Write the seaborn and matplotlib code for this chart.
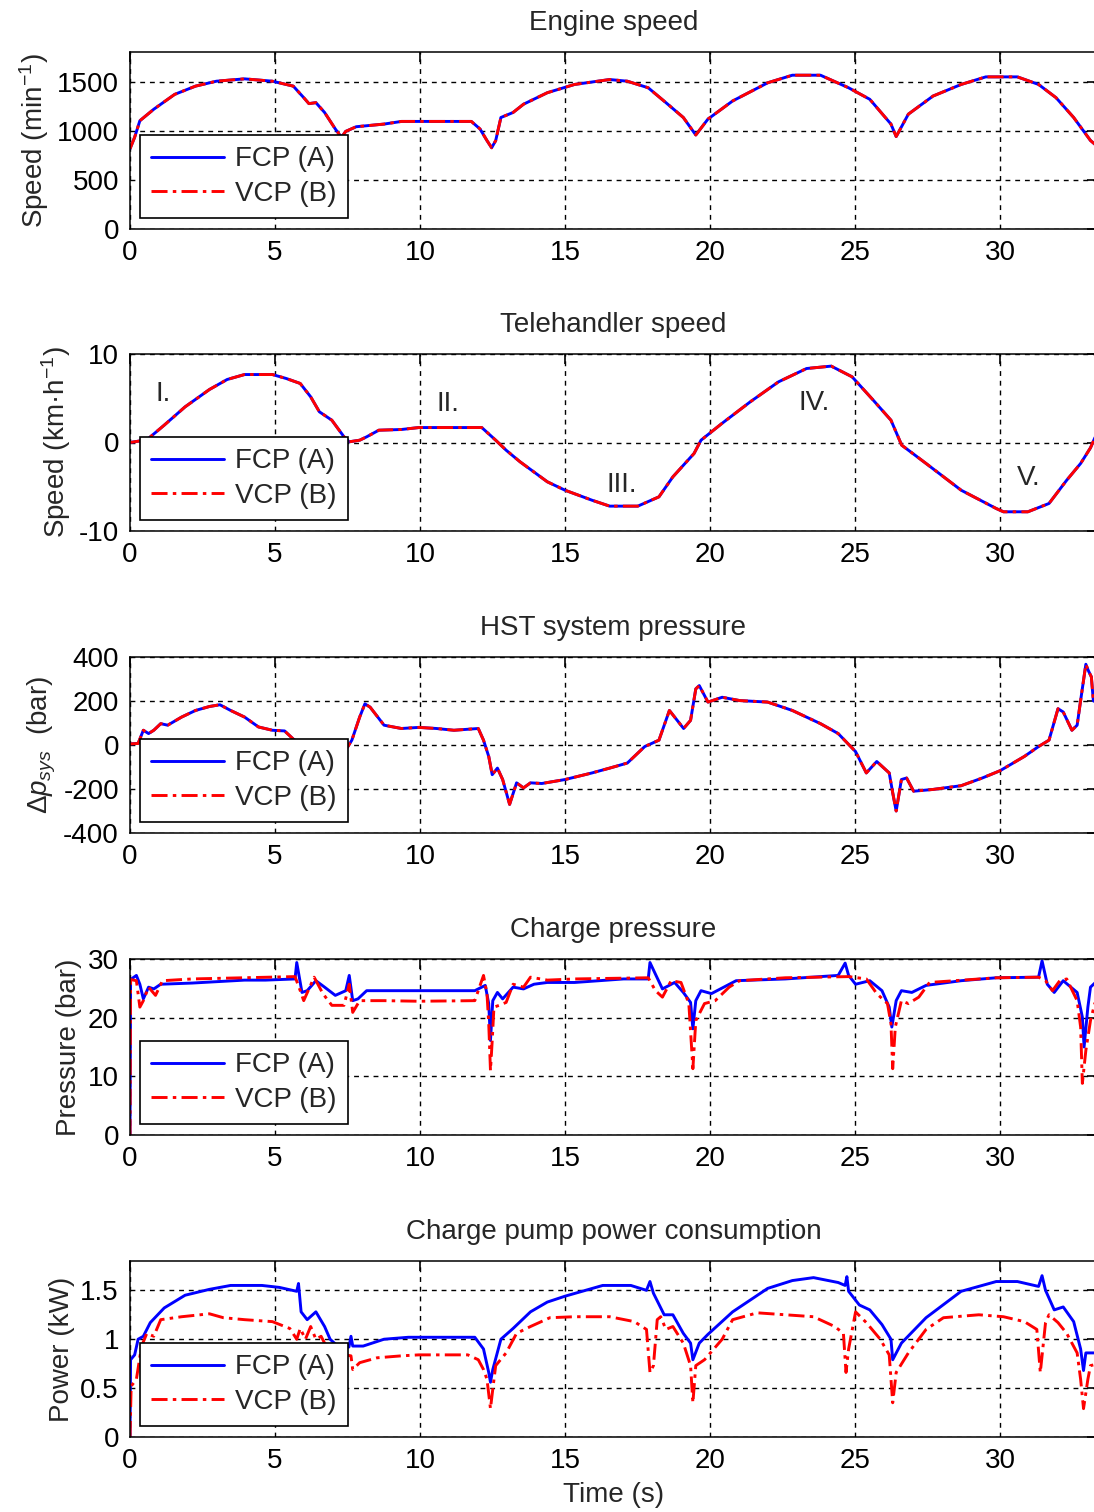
import numpy as np
import pandas as pd
import matplotlib
matplotlib.use('Agg')
import matplotlib.pyplot as plt
import seaborn as sns

# ---------------- data ----------------
t_eng = [0, 0.16, 0.34, 0.82, 1.54, 2.26, 2.98, 3.95, 4.91, 5.63,
         5.99, 6.17, 6.41, 6.71, 7.08, 7.29, 7.44, 7.80, 8.76, 9.36,
         11.77, 12.07, 12.31, 12.47, 12.61, 12.79, 13.21, 13.57, 14.39, 15.33,
         16.54, 17.15, 17.87, 18.48, 19.08, 19.51, 19.93, 20.78, 21.99, 22.84,
         23.81, 24.78, 25.51, 26.24, 26.42, 26.84, 27.69, 28.66, 29.51, 30.6,
         31.33, 31.93, 32.54, 33.12, 33.4]
eng = [815, 933, 1101, 1218, 1369, 1453, 1503, 1527, 1503, 1453,
       1336, 1275, 1285, 1185, 1017, 933, 993, 1040, 1067, 1094,
       1094, 1017, 899, 826, 899, 1134, 1185, 1269, 1386, 1470,
       1520, 1503, 1436, 1285, 1134, 956, 1118, 1302, 1487, 1564,
       1564, 1436, 1319, 1067, 940, 1168, 1352, 1470, 1547, 1547,
       1470, 1336, 1134, 900, 830]

t_tel = [0, 0.58, 1.18, 1.90, 2.74, 3.35, 3.95, 4.91, 5.39, 5.87,
         6.23, 6.53, 6.96, 7.38, 7.56, 7.92, 8.16, 8.58, 9.36, 9.96,
         12.13, 12.61, 12.97, 13.45, 14.39, 15.0, 15.93, 16.54, 17.51, 18.24,
         18.72, 19.45, 19.69, 20.41, 21.39, 22.36, 23.33, 24.18, 24.9, 25.63,
         26.24, 26.61, 27.45, 28.66, 29.87, 30.12, 30.96, 31.69, 32.30, 32.78,
         33.12, 33.4]
tel = [0.0, 0.3, 1.96, 4.03, 5.99, 7.12, 7.68, 7.68, 7.23, 6.67,
       5.16, 3.47, 2.52, 0.64, 0.08, 0.26, 0.64, 1.39, 1.47, 1.69,
       1.69, 0.26, -0.87, -2.18, -4.44, -5.39, -6.52, -7.19, -7.19, -6.14,
       -3.88, -1.24, 0.26, 2.15, 4.6, 6.85, 8.36, 8.63, 7.42, 4.78,
       2.52, -0.30, -2.37, -5.39, -7.46, -7.83, -7.83, -6.89, -4.26, -2.37,
       -0.6, 1.5]

t_hst = [0, 0.28, 0.46, 0.64, 0.82, 1.06, 1.3, 1.78, 2.26, 2.74,
         3.10, 3.47, 3.95, 4.43, 4.91, 5.33, 5.63, 6.2, 7.0, 7.5,
         7.65, 7.92, 8.10, 8.28, 8.76, 9.36, 9.96, 10.57, 11.17, 12.01,
         12.19, 12.37, 12.49, 12.67, 12.85, 13.09, 13.33, 13.57, 13.81, 14.2,
         15.0, 15.93, 16.54, 17.15, 17.75, 18.24, 18.6, 19.09, 19.33, 19.51,
         19.63, 19.93, 20.42, 21.02, 21.99, 22.84, 23.81, 24.42, 25.02, 25.39,
         25.75, 26.18, 26.3, 26.42, 26.6, 26.78, 27.02, 27.69, 28.66, 29.39,
         30.0, 30.84, 31.33, 31.69, 32.0, 32.18, 32.48, 32.66, 32.78, 32.96,
         33.05, 33.15, 33.22, 33.4]
hst = [5, 7, 67, 52, 67, 97, 90, 127, 157, 175,
       183, 157, 127, 82, 67, 64, 27, -30, -40, -10,
       22, 127, 187, 172, 90, 75, 80, 75, 67, 75,
       22, -52, -135, -105, -157, -270, -172, -195, -172, -175,
       -157, -127, -105, -82, -7, 22, 157, 75, 112, 255,
       270, 195, 217, 202, 195, 157, 97, 52, -30, -127,
       -75, -127, -217, -300, -157, -150, -210, -202, -185, -150,
       -117, -52, -7, 22, 165, 150, 67, 90, 202, 367,
       337, 310, 200, 200]

t_cp_a = [0, 0.02, 0.22, 0.34, 0.46, 0.64, 0.82, 1.06, 2.14, 3.95,
          4.67, 5.69, 5.75, 5.93, 6.11, 6.41, 6.71, 7.08, 7.44, 7.56,
          7.68, 7.86, 8.16, 11.89, 12.25, 12.37, 12.43, 12.51, 12.67, 12.85,
          13.21, 13.57, 13.93, 14.39, 15.33, 17.02, 17.87, 17.93, 18.12, 18.36,
          18.78, 19.08, 19.33, 19.41, 19.51, 19.69, 20.05, 20.9, 22.6, 24.42,
          24.66, 24.78, 25.02, 25.51, 25.93, 26.18, 26.27, 26.42, 26.6, 26.96,
          27.45, 28.66, 29.87, 31.33, 31.45, 31.63, 31.87, 32.18, 32.66, 32.84,
          32.90, 33.03, 33.12, 33.4]
cp_a = [0, 26.5, 27.2, 25.7, 23.2, 25.2, 24.9, 25.7, 25.9, 26.4,
        26.4, 26.6, 29.4, 24.3, 24.6, 26.3, 25.2, 23.8, 24.6, 27.2,
        22.9, 23.2, 24.6, 24.6, 25.5, 22.4, 16.1, 22.9, 24.3, 23.2,
        25.2, 24.9, 25.7, 26.0, 26.0, 26.6, 26.6, 29.4, 27.4, 24.9,
        26.0, 24.3, 22.6, 18.1, 22.9, 24.6, 24.1, 26.3, 26.6, 27.2,
        29.3, 27.2, 25.7, 26.3, 24.6, 21.8, 18.4, 22.9, 24.6, 24.3,
        25.5, 26.3, 26.8, 26.9, 29.7, 25.7, 24.3, 26.3, 24.3, 20.1,
        15.0, 21.8, 25.2, 26.5]

t_cp_b = [0, 0.02, 0.22, 0.34, 0.46, 0.64, 0.88, 1.12, 2.14, 5.69,
          5.87, 5.99, 6.35, 6.65, 6.96, 7.38, 7.56, 7.68, 7.92, 8.76,
          9.96, 11.89, 12.19, 12.31, 12.37, 12.43, 12.49, 12.55, 12.73, 12.97,
          13.21, 13.57, 13.81, 14.39, 15.33, 17.87, 18.12, 18.36, 18.66, 19.0,
          19.27, 19.35, 19.41, 19.51, 19.81, 20.18, 20.66, 21.02, 22.6, 24.78,
          25.39, 25.75, 26.12, 26.24, 26.3, 26.39, 26.6, 26.84, 27.2, 27.57,
          29.87, 31.33, 31.57, 31.81, 32.06, 32.30, 32.66, 32.78, 32.84, 32.96,
          33.12, 33.4]
cp_b = [0, 26.5, 26.3, 21.8, 22.9, 25.2, 23.8, 26.3, 26.6, 27.0,
        24.6, 22.9, 26.9, 24.1, 22.1, 22.1, 25.7, 20.9, 22.9, 22.9,
        22.8, 22.9, 27.2, 24.1, 19.0, 11.0, 16.1, 21.8, 22.1, 22.6,
        25.7, 25.2, 26.9, 26.4, 26.6, 26.8, 24.6, 23.5, 26.3, 26.0,
        22.4, 16.1, 11.3, 19.5, 22.4, 22.9, 25.2, 26.3, 26.8, 27.0,
        26.6, 24.1, 22.4, 19.0, 11.3, 18.4, 22.9, 22.4, 23.5, 26.0,
        26.8, 26.9, 26.3, 24.6, 26.3, 26.6, 22.9, 18.4, 8.8, 14.4,
        19.5, 25.0]

t_pw_a = [0, 0.02, 0.16, 0.28, 0.46, 0.70, 1.18, 1.90, 2.74, 3.47,
          4.55, 5.15, 5.75, 5.81, 5.90, 6.11, 6.41, 6.71, 6.90, 7.2,
          7.55, 7.62, 7.68, 8.04, 8.76, 9.60, 11.89, 12.19, 12.37, 12.43,
          12.51, 12.79, 13.21, 13.81, 14.39, 15.0, 16.3, 17.27, 17.81, 17.93,
          18.05, 18.42, 18.72, 19.08, 19.33, 19.41, 19.63, 19.93, 20.78, 21.99,
          22.84, 23.57, 24.42, 24.66, 24.72, 24.78, 25.15, 25.51, 25.93, 26.24,
          26.3, 26.6, 27.45, 28.66, 29.87, 30.6, 31.33, 31.45, 31.57, 31.87,
          32.18, 32.54, 32.78, 32.88, 32.96, 33.12, 33.4]
pw_a = [0, 0.79, 0.84, 1.0, 1.03, 1.17, 1.32, 1.45, 1.51, 1.55,
        1.55, 1.53, 1.49, 1.57, 1.28, 1.20, 1.28, 1.13, 1.0, 0.92,
        0.92, 1.03, 0.93, 0.93, 1.0, 1.02, 1.02, 0.90, 0.66, 0.56,
        0.69, 1.0, 1.11, 1.28, 1.38, 1.44, 1.55, 1.55, 1.50, 1.59,
        1.47, 1.25, 1.25, 1.06, 0.96, 0.79, 0.96, 1.05, 1.28, 1.52,
        1.60, 1.63, 1.58, 1.55, 1.64, 1.49, 1.35, 1.30, 1.15, 1.0,
        0.79, 0.96, 1.22, 1.49, 1.59, 1.59, 1.54, 1.65, 1.50, 1.30,
        1.33, 1.18, 0.90, 0.68, 0.86, 0.86, 0.86]

t_pw_b = [0, 0.04, 0.22, 0.40, 0.58, 0.82, 1.06, 1.78, 2.74, 3.22,
          3.95, 4.91, 5.51, 5.75, 5.87, 6.05, 6.23, 6.41, 6.59, 6.71,
          7.2, 7.62, 7.68, 7.92, 8.52, 9.36, 9.96, 11.65, 12.01, 12.19,
          12.31, 12.43, 12.51, 12.61, 12.97, 13.33, 13.81, 14.48, 15.33, 16.54,
          17.39, 17.81, 17.93, 18.05, 18.18, 18.30, 18.48, 18.72, 19.08, 19.33,
          19.41, 19.51, 19.81, 20.42, 20.78, 21.63, 22.6, 23.57, 24.3, 24.6,
          24.69, 24.78, 25.02, 25.39, 25.87, 26.18, 26.3, 26.42, 26.84, 27.45,
          28.05, 29.27, 30.12, 30.84, 31.27, 31.39, 31.57, 31.69, 32.0, 32.30,
          32.66, 32.78, 32.88, 33.03, 33.12, 33.4]
pw_b = [0, 0.52, 0.59, 0.93, 1.06, 1.03, 1.20, 1.23, 1.26, 1.22,
        1.20, 1.18, 1.11, 1.0, 1.11, 1.0, 1.13, 1.0, 1.03, 0.96,
        0.85, 0.83, 0.69, 0.76, 0.81, 0.83, 0.84, 0.84, 0.79, 0.69,
        0.59, 0.29, 0.49, 0.73, 0.86, 1.06, 1.13, 1.22, 1.23, 1.23,
        1.18, 1.10, 0.66, 0.73, 1.20, 1.23, 1.10, 1.13, 0.96, 0.73,
        0.35, 0.73, 0.79, 1.0, 1.20, 1.27, 1.25, 1.23, 1.13, 1.06,
        0.66, 0.90, 1.28, 1.17, 1.0, 0.84, 0.35, 0.66, 0.86, 1.10,
        1.22, 1.25, 1.23, 1.18, 1.10, 0.66, 1.17, 1.25, 1.17, 1.06,
        0.86, 0.59, 0.29, 0.59, 0.73, 0.75]

titles = ["Engine speed", "Telehandler speed", "HST system pressure",
          "Charge pressure", "Charge pump power consumption"]
ylabels = ["Speed (min$^{-1}$)", "Speed (km·h$^{-1}$)", r"$\Delta p_{sys}$  (bar)",
           "Pressure (bar)", "Power (kW)"]
yticks = [[0, 500, 1000, 1500], [-10, 0, 10], [-400, -200, 0, 200, 400],
          [0, 10, 20, 30], [0, 0.5, 1, 1.5]]
yticklabels = [["0", "500", "1000", "1500"], ["-10", "0", "10"],
               ["-400", "-200", "0", "200", "400"], ["0", "10", "20", "30"],
               ["0", "0.5", "1", "1.5"]]
ylims = [(0, 1800), (-10, 10), (-400, 400), (0, 30), (0, 1.8)]
xticks = [0, 5, 10, 15, 20, 25, 30]
phase_labels = ["I.", "II.", "III.", "IV.", "V."]
phase_t = [1.15, 10.95, 16.95, 23.6, 31.0]
phase_v = [5.5, 4.3, -4.8, 4.5, -4.0]
series_names = ["FCP (A)", "VCP (B)"]

# ---------------- style ----------------
sns.set_style("white")
plt.rcParams['font.family'] = ['Liberation Sans', 'DejaVu Sans']
plt.rcParams['mathtext.fontset'] = 'custom'
plt.rcParams['mathtext.rm'] = 'Liberation Sans'
plt.rcParams['mathtext.it'] = 'Liberation Sans:italic'
plt.rcParams['mathtext.bf'] = 'Liberation Sans:bold'
plt.rcParams['axes.unicode_minus'] = False

FS = 20
W, H = 1094, 1512
fig = plt.figure(figsize=(W / 100, H / 100), dpi=100)

panels_px = [(52, 229), (354, 531), (657, 833), (959, 1135), (1261, 1437)]
left_px, right_px = 130, 1097
px_per_s = 29.0
xmax = (right_px - left_px) / px_per_s

data_sets = [
    [(t_eng, eng), (t_eng, eng)],
    [(t_tel, tel), (t_tel, tel)],
    [(t_hst, hst), (t_hst, hst)],
    [(t_cp_a, cp_a), (t_cp_b, cp_b)],
    [(t_pw_a, pw_a), (t_pw_b, pw_b)],
]

blue = '#0000FF'
red = '#FF0000'
dashdot = (0, (5.5, 1.8, 1.2, 1.8))

for i, (top, bot) in enumerate(panels_px):
    ax = fig.add_axes([left_px / W, 1 - bot / H, (right_px - left_px) / W, (bot - top) / H])
    (ta, ya), (tb, yb) = data_sets[i]
    dfa = pd.DataFrame({'t': ta, 'v': ya})
    dfb = pd.DataFrame({'t': tb, 'v': yb})
    sns.lineplot(data=dfa, x='t', y='v', ax=ax, color=blue, linewidth=2.1,
                 estimator=None, sort=False, label=series_names[0], legend=False)
    sns.lineplot(data=dfb, x='t', y='v', ax=ax, color=red, linewidth=2.1,
                 linestyle=dashdot, estimator=None, sort=False,
                 label=series_names[1], legend=False)
    ax.set_xlim(0, xmax)
    ax.set_ylim(*ylims[i])
    ax.set_xticks(xticks)
    ax.set_xticklabels([str(x) for x in xticks])
    ax.set_yticks(yticks[i])
    ax.set_yticklabels(yticklabels[i])
    ax.tick_params(direction='in', length=7, width=1.2, top=True, right=True,
                   labelsize=FS, colors='black')
    ax.tick_params(axis='x', pad=8)
    ax.tick_params(axis='y', pad=8)
    ax.set_axisbelow(True)
    ax.grid(True, color='black', linestyle=(0, (3.5, 3.5)), linewidth=1.0)
    for s in ax.spines.values():
        s.set_color('black')
        s.set_linewidth(1.1)
    ax.spines['right'].set_visible(False)
    ax.set_title(titles[i], fontsize=FS, pad=16)
    ax.set_ylabel(ylabels[i], fontsize=FS, labelpad=4)
    ax.set_xlabel('Time (s)' if i == 4 else '', fontsize=FS, labelpad=6)
    handles, labels = ax.get_legend_handles_labels()
    leg = ax.legend(handles[:2], series_names, loc='lower left',
                    bbox_to_anchor=(0.010, 0.060), borderaxespad=0,
                    fontsize=FS, frameon=True, fancybox=False, framealpha=1,
                    edgecolor='black', handlelength=2.6, handletextpad=0.4,
                    borderpad=0.42, labelspacing=0.3)
    leg.get_frame().set_linewidth(1.2)
    if i == 1:
        for lab, tx, vy in zip(phase_labels, phase_t, phase_v):
            ax.text(tx, vy, lab, fontsize=FS, ha='center', va='center')

fig.savefig('out.png', dpi=100)
